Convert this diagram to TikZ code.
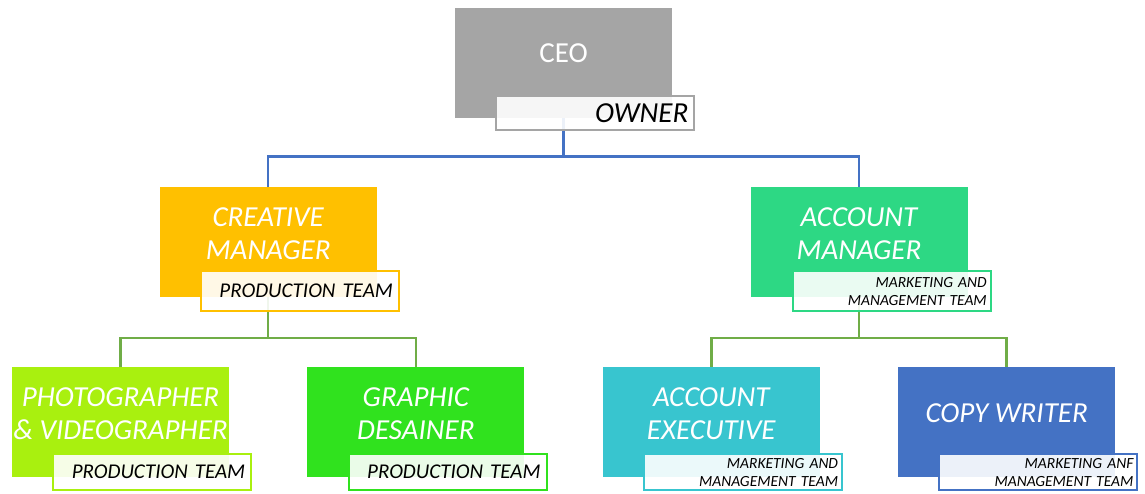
\documentclass[tikz,border=0pt]{standalone}
\usepackage{fontspec}
\setmainfont{Carlito}
\usepackage{xcolor}
\definecolor{Ash}{HTML}{A5A5A5}
\definecolor{Gold}{HTML}{FFC000}
\definecolor{Mint}{HTML}{2DD884}
\definecolor{Lime}{HTML}{A9F00F}
\definecolor{Grass}{HTML}{30E21E}
\definecolor{Aqua}{HTML}{38C5CF}
\definecolor{Royal}{HTML}{4472C4}
\definecolor{Leaf}{HTML}{70AD47}
\usetikzlibrary{positioning,calc,backgrounds}

\tikzset{
  box/.style={fill=#1,minimum width=217pt,minimum height=110pt,inner sep=0pt,align=center,text=white,
    font=\fontsize{29}{33}\selectfont\itshape,text height=54pt,text depth=20pt},
  oneline/.style={text height=20pt},
  tag/.style={draw=#1,line width=2pt,fill=white,fill opacity=.9,text opacity=1,minimum height=36pt,
    text width=186pt,align=right,inner xsep=6pt,inner ysep=0pt,anchor=south east,
    font=\fontsize{21}{25}\selectfont\itshape},
  small/.style={font=\fontsize{15.5}{18}\selectfont\itshape,text width=190pt,inner xsep=4pt},
  link/.style={draw=#1,line width=2.5pt},
}

\begin{document}
\begin{tikzpicture}[x=1pt,y=-1pt,node distance=78pt]
\useasboundingbox (0,0) rectangle (1145,493);
% bottom row
\node[box=Lime] (pv) at (120.5,422) {PHOTOGRAPHER\\\& VIDEOGRAPHER};
\node[box=Grass,right=of pv] (gd) {GRAPHIC\\DESAINER};
\node[box=Aqua,right=of gd] (ae) {ACCOUNT\\EXECUTIVE};
\node[box=Royal,oneline,right=of ae] (cw) {COPY WRITER};
% managers and ceo
\node[box=Gold] (cm) at ($(pv)!.5!(gd)+(0,-180)$) {CREATIVE\\MANAGER};
\node[box=Mint] (am) at ($(ae)!.5!(cw)+(0,-180)$) {ACCOUNT\\MANAGER};
\node[box=Ash,oneline,font=\fontsize{29}{33}\selectfont] (ceo) at ($(cm)!.5!(am)+(0,-179.5)$) {CEO};
% team tags
\node[tag=Ash,minimum height=34pt,font=\fontsize{29}{33}\selectfont\itshape] (ceotag) at ([xshift=23pt,yshift=-13pt]ceo.south east) {OWNER};
\node[tag=Gold,minimum height=40pt] (cmtag) at ([xshift=23pt,yshift=-15pt]cm.south east) {PRODUCTION TEAM};
\node[tag=Mint,small,minimum height=40pt] (amtag) at ([xshift=24pt,yshift=-15pt]am.south east) {MARKETING AND\\MANAGEMENT TEAM};
\node[tag=Lime] (pvtag) at ([xshift=23pt,yshift=-14pt]pv.south east) {PRODUCTION TEAM};
\node[tag=Grass] (gdtag) at ([xshift=23pt,yshift=-14pt]gd.south east) {PRODUCTION TEAM};
\node[tag=Aqua,small] (aetag) at ([xshift=23pt,yshift=-14pt]ae.south east) {MARKETING AND\\MANAGEMENT TEAM};
\node[tag=Royal,small] (cwtag) at ([xshift=23pt,yshift=-14pt]cw.south east) {MARKETING ANF\\MANAGEMENT TEAM};
% connectors
\coordinate (topbus) at ($(ceo.south)+(0,39)$);
\coordinate (leftbus) at ($(cm.south)+(0,41)$);
\coordinate (rightbus) at ($(am.south)+(0,41)$);
\begin{scope}[on background layer]
\draw[link=Royal] (ceo.south) -- (topbus) -| (cm.north);
\draw[link=Royal] (topbus) -| (am.north);
\draw[link=Leaf] (cm.south) -- (leftbus) -| (pv.north);
\draw[link=Leaf] (leftbus) -| (gd.north);
\draw[link=Leaf] (am.south) -- (rightbus) -| (ae.north);
\draw[link=Leaf] (rightbus) -| (cw.north);
\end{scope}
\end{tikzpicture}
\end{document}
